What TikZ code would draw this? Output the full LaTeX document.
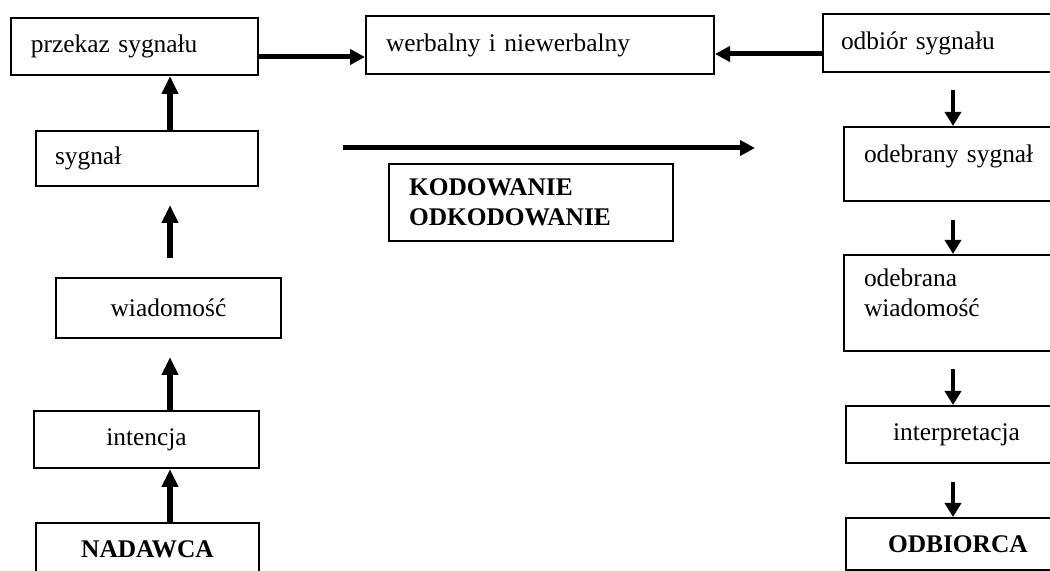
\documentclass[tikz,border=0pt]{standalone}
\usepackage{fontspec}
\setmainfont{Liberation Serif}
\usetikzlibrary{arrows.meta}

\begin{document}
\begin{tikzpicture}[x=0.5pt, y=-0.5pt,
    box/.style={draw, line width=1pt, anchor=north west, inner ysep=0pt, font=\fontsize{12.7}{15}\selectfont},
    lbox/.style={box, align=left},
    cbox/.style={box, align=center, inner xsep=0pt},
    up/.style={-{Triangle[width=8pt, length=9pt]}, line width=3pt},
    down/.style={-{Triangle[width=8pt, length=7pt]}, line width=2.2pt},
    side/.style={-{Triangle[width=7.5pt, length=7.5pt]}, line width=2.5pt}]
    \useasboundingbox (0,0) rectangle (1050,571);
    \clip (0,0) rectangle (1050,571);
    % Arrow columns
    \coordinate (lx) at (170,0);
    \coordinate (rx) at (953,0);
    \coordinate (ay) at (0,57);
    \coordinate (by) at (0,54);
    % Sender side
    \node[lbox, text width=103.5pt, inner xsep=10pt, minimum height=28.5pt] (przekaz) at (10,17) {przekaz sygnału};
    \node[lbox, text width=92pt, inner xsep=9.5pt, minimum height=27.5pt] (sygnal) at (35,130) {sygnał};
    \node[cbox, text width=112.5pt, minimum height=30pt] (wiadomosc) at (55,277) {wiadomość};
    \node[cbox, text width=112.5pt, minimum height=28.5pt] (intencja) at (33,410) {intencja};
    \node[cbox, text width=111.5pt, minimum height=26pt] (nadawca) at (35,522) {\textbf{NADAWCA}};
    % Middle
    \node[lbox, text width=154pt, inner xsep=10pt, minimum height=29pt] (werbalny) at (365,15) {werbalny i niewerbalny};
    \node[lbox, text width=122pt, inner xsep=10pt, minimum height=38.5pt] (kodowanie) at (388,163) {\textbf{KODOWANIE}\\\textbf{ODKODOWANIE}};
    \coordinate (kstart) at (343,148);
    \coordinate (kend) at (755,148);
    % Receiver side (boxes run past the right edge)
    \node[lbox, text width=110pt, inner xsep=9pt, minimum height=29pt] (odbior) at (822,13) {odbiór sygnału};
    \node[lbox, text width=100pt, inner xsep=10pt, minimum height=37pt, text depth=10.5pt] (odebrany) at (843,126) {odebrany sygnał};
    \node[lbox, text width=100pt, inner xsep=10pt, minimum height=48pt] (odebrana) at (843,254) {odebrana\\wiadomość\\[-5pt]\mbox{}};
    \node[lbox, text width=90pt, inner xsep=23.5pt, minimum height=28.5pt] (interpretacja) at (845,405) {interpretacja};
    \node[lbox, text width=90pt, inner xsep=21pt, minimum height=26pt] (odbiorca) at (845,517) {\textbf{ODBIORCA}};
    % Upward arrows
    \draw[up] (sygnal.north -| lx) -- (przekaz.south -| lx);
    \draw[up, shorten <=9.5pt, shorten >=9pt] (wiadomosc.north -| lx) -- (sygnal.south -| lx);
    \draw[up, shorten >=9pt] (intencja.north -| lx) -- (wiadomosc.south -| lx);
    \draw[up] (nadawca.north -| lx) -- (intencja.south -| lx);
    % Sideways arrows
    \draw[side] (przekaz.east |- ay) -- (werbalny.west |- ay);
    \draw[side] (odbior.west |- by) -- (werbalny.east |- by);
    \draw[side] (kstart) -- (kend);
    % Downward arrows
    \draw[down, shorten <=8.5pt] (odbior.south -| rx) -- (odebrany.north -| rx);
    \draw[down, shorten <=9pt] (odebrany.south -| rx) -- (odebrana.north -| rx);
    \draw[down, shorten <=8.5pt] (odebrana.south -| rx) -- (interpretacja.north -| rx);
    \draw[down, shorten <=9pt] (interpretacja.south -| rx) -- (odbiorca.north -| rx);
\end{tikzpicture}
\end{document}
